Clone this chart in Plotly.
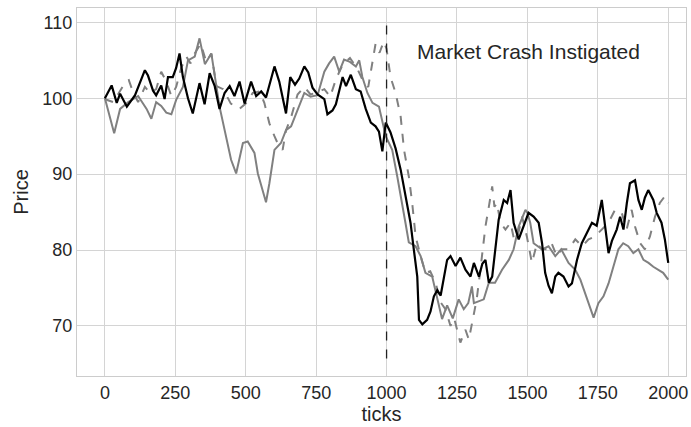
import plotly.graph_objects as go

# values (tick, price)
black_x = [0, 24, 42, 54, 78, 107, 142, 153, 171, 182, 200, 212, 224, 241, 253, 265, 277, 295, 312,
           336, 354, 372, 390, 407, 425, 443, 460, 478, 496, 519, 537, 555, 572, 602, 619, 643, 658,
           675, 690, 708, 722, 737, 755, 767, 779, 790, 808, 820, 832, 844, 856, 873, 891, 908, 926,
           944, 961, 973, 985, 997, 1014, 1032, 1050, 1067, 1085, 1097, 1109, 1115, 1127, 1144, 1156,
           1168, 1180, 1192, 1203, 1215, 1227, 1245, 1262, 1280, 1298, 1310, 1328, 1340, 1351, 1363,
           1375, 1386, 1398, 1416, 1428, 1440, 1451, 1469, 1481, 1493, 1504, 1522, 1540, 1552, 1563,
           1575, 1587, 1599, 1610, 1628, 1646, 1658, 1676, 1693, 1711, 1729, 1746, 1764, 1776, 1788,
           1800, 1817, 1829, 1841, 1853, 1864, 1882, 1894, 1906, 1917, 1929, 1947, 1959, 1976, 1988, 2000]
black_y = [100, 101.7, 99.4, 100.6, 98.9, 100.4, 103.7, 103, 101, 100.4, 101.7, 99.9, 102.8, 102.8, 104,
           105.9, 102.8, 100, 98, 102, 99.2, 103.3, 101.6, 98.6, 100.7, 101.6, 100.3, 102.2, 99.3, 102.2,
           100.3, 100.9, 100.1, 104.2, 102.2, 98, 102.8, 101.8, 102.6, 104.2, 103.4, 101.4, 100.5, 100.2,
           99.9, 97.9, 98.4, 99.2, 100.9, 102.8, 101.6, 103.1, 101.2, 100.9, 98.6, 96.8, 96.3, 95.6, 93.0,
           96.8, 95.5, 93.4, 90.6, 87.1, 83.6, 80.0, 76.5, 70.8, 70.2, 70.8, 71.9, 73.9, 74.7, 74.0, 76.5,
           78.7, 79.2, 77.9, 79.0, 77.4, 76.5, 78.3, 76.5, 78.2, 78.7, 75.7, 76.5, 80.1, 84.0, 86.6, 86.2,
           87.9, 83.6, 81.4, 82.7, 84.0, 84.9, 84.4, 83.6, 80.9, 77.0, 75.3, 74.3, 76.5, 77.0, 76.5, 75.2,
           75.6, 78.7, 80.9, 82.3, 83.6, 83.2, 86.6, 83.1, 79.6, 81.2, 82.7, 84.4, 82.7, 86.2, 88.8, 89.2,
           86.6, 85.3, 86.9, 87.9, 86.6, 84.9, 83.6, 81.4, 78.3]

solid_x = [0, 15, 33, 54, 83, 118, 148, 165, 182, 200, 218, 236, 253, 277, 295, 319, 336, 355, 378,
           407, 431, 448, 466, 490, 507, 531, 543, 560, 572, 584, 602, 625, 643, 661, 684, 708, 730,
           755, 779, 796, 814, 832, 849, 870, 891, 903, 914, 932, 950, 973, 997, 1020, 1038, 1056,
           1067, 1079, 1103, 1121, 1138, 1162, 1180, 1197, 1215, 1235, 1256, 1274, 1290, 1303, 1310,
           1345, 1363, 1385, 1410, 1434, 1451, 1469, 1493, 1500, 1510, 1522, 1552, 1575, 1599, 1620,
           1646, 1670, 1688, 1705, 1723, 1735, 1752, 1770, 1788, 1805, 1823, 1840, 1858, 1876, 1894,
           1912, 1930, 1947, 1965, 1982, 2000]
solid_y = [100, 98, 95.4, 98.6, 99.5, 100.3, 98.6, 97.3, 99.5, 99, 98.1, 97.9, 99.8, 101.5, 105, 105.5,
           107.9, 104.5, 105.9, 98.9, 95.0, 91.9, 90.1, 94.1, 94.3, 92.8, 90.1, 87.9, 86.3, 88.8, 93.2,
           94.1, 95.8, 96.3, 98.5, 100.7, 100.2, 100.4, 103.5, 104.6, 105.5, 103.5, 105.1, 104.8, 104.2,
           105, 102.8, 100.7, 99.4, 98.9, 95.0, 93.2, 89.7, 86.2, 83.6, 81.0, 80.5, 79.2, 77.0, 76.5,
           73.5, 70.9, 72.7, 71.0, 73.5, 72.2, 73.0, 75.2, 73.0, 73.5, 75.7, 75.7, 77.4, 78.7, 80.1,
           83.1, 85.3, 84.9, 83.6, 80.9, 80.1, 80.5, 79.2, 80.1, 78.3, 77.4, 76.1, 74.3, 72.2, 71.1,
           73.0, 73.9, 75.6, 77.8, 80.1, 80.9, 80.5, 79.6, 80.1, 78.7, 78.3, 77.8, 77.4, 77.0, 76.1]

dashed_x = [0, 6, 30, 74, 85, 101, 118, 142, 160, 182, 200, 218, 236, 253, 271, 289, 304, 319, 340,
            360, 378, 396, 420, 447, 478, 500, 525, 549, 566, 584, 602, 613, 631, 643, 661, 684, 708,
            730, 755, 779, 800, 820, 845, 870, 895, 920, 935, 950, 961, 975, 990, 1000, 1014, 1032,
            1050, 1062, 1079, 1091, 1103, 1121, 1138, 1155, 1174, 1192, 1209, 1227, 1240, 1262, 1280,
            1292, 1305, 1320, 1333, 1351, 1363, 1375, 1383, 1392, 1404, 1422, 1440, 1452, 1463, 1481,
            1498, 1516, 1534, 1551, 1569, 1586, 1604, 1622, 1646, 1670, 1694, 1717, 1740, 1764, 1788,
            1811, 1835, 1852, 1870, 1882, 1900, 1917, 1935, 1953, 1970, 1988, 2000]
dashed_y = [100, 99.8, 99.5, 102.2, 102.4, 100.7, 99.5, 101.5, 100.7, 101.2, 103.5, 102.2, 100.3, 101.5,
            104, 105.5, 104.6, 105.9, 107.2, 104.8, 105.9, 101.6, 101.2, 99.3, 98.6, 99.3, 100.7, 100.9,
            99.4, 96.7, 95.0, 94.1, 93.2, 95.8, 97.5, 100.5, 101.5, 100.5, 100.8, 101.2, 100.2, 102.5,
            104.5, 105.3, 104.0, 102.0, 101.5, 104.5, 107.2, 106.0, 107.5, 106.5, 102.8, 100.7, 97.6,
            93.2, 89.7, 86.2, 81.8, 79.2, 77.0, 77.2, 75.7, 73.1, 72.2, 70.0, 71.0, 67.8, 69.5, 68.2,
            70.5, 73.5, 77.4, 83.1, 85.7, 88.4, 85.7, 86.2, 83.6, 82.7, 83.6, 81.5, 81.4, 84.4, 81.8,
            78.3, 80.9, 80.1, 80.1, 80.9, 79.2, 80.1, 80.1, 81.4, 80.5, 81.4, 81.8, 82.7, 83.6, 85.3,
            84.9, 82.7, 85.3, 83.1, 80.9, 80.1, 81.8, 84.4, 86.2, 87.1, 86.2]

crash_tick = 1000
crash_span = [65.7, 109.6]
x_ticks = [0, 250, 500, 750, 1000, 1250, 1500, 1750, 2000]
y_ticks = [70, 80, 90, 100, 110]

FONT = "Liberation Sans, Arial, sans-serif"

fig = go.Figure()
fig.add_trace(go.Scatter(x=dashed_x, y=dashed_y, mode="lines",
                         line=dict(color="#808080", width=2, dash="dash")))
fig.add_trace(go.Scatter(x=solid_x, y=solid_y, mode="lines",
                         line=dict(color="#808080", width=2)))
fig.add_trace(go.Scatter(x=black_x, y=black_y, mode="lines",
                         line=dict(color="black", width=2.2)))

fig.add_shape(type="line", x0=crash_tick, x1=crash_tick, y0=crash_span[0], y1=crash_span[1],
              line=dict(color="#222222", width=1.3, dash="dash"))
fig.add_annotation(x=1100, y=106.2, text="Market Crash Instigated", showarrow=False,
                   xanchor="left", yanchor="middle", font=dict(size=21, color="#262626", family=FONT))

fig.update_layout(
    width=691, height=427,
    margin=dict(l=77, r=3, t=8, b=51),
    paper_bgcolor="white", plot_bgcolor="white",
    showlegend=False,
    font=dict(family=FONT, size=18, color="#262626"),
)
fig.update_xaxes(range=[-99, 2063], tickvals=x_ticks, showgrid=True, gridcolor="#d4d4d4",
                 gridwidth=1.2, showline=True, linecolor="#cccccc", linewidth=1.2, mirror=True,
                 zeroline=False, ticks="", tickfont=dict(size=18),
                 title=dict(text="ticks", font=dict(size=20), standoff=2))
fig.update_yaxes(range=[63.4, 111.9], tickvals=y_ticks, showgrid=True, gridcolor="#d4d4d4",
                 gridwidth=1.2, showline=True, linecolor="#cccccc", linewidth=1.2, mirror=True,
                 zeroline=False, ticks="", tickfont=dict(size=18),
                 title=dict(text="Price", font=dict(size=20), standoff=8))

# drop the browser's default body margin so the figure sits at the page corner
fig.write_html("out.html", config={"displayModeBar": False},
               post_script="document.body.style.margin='0';")
